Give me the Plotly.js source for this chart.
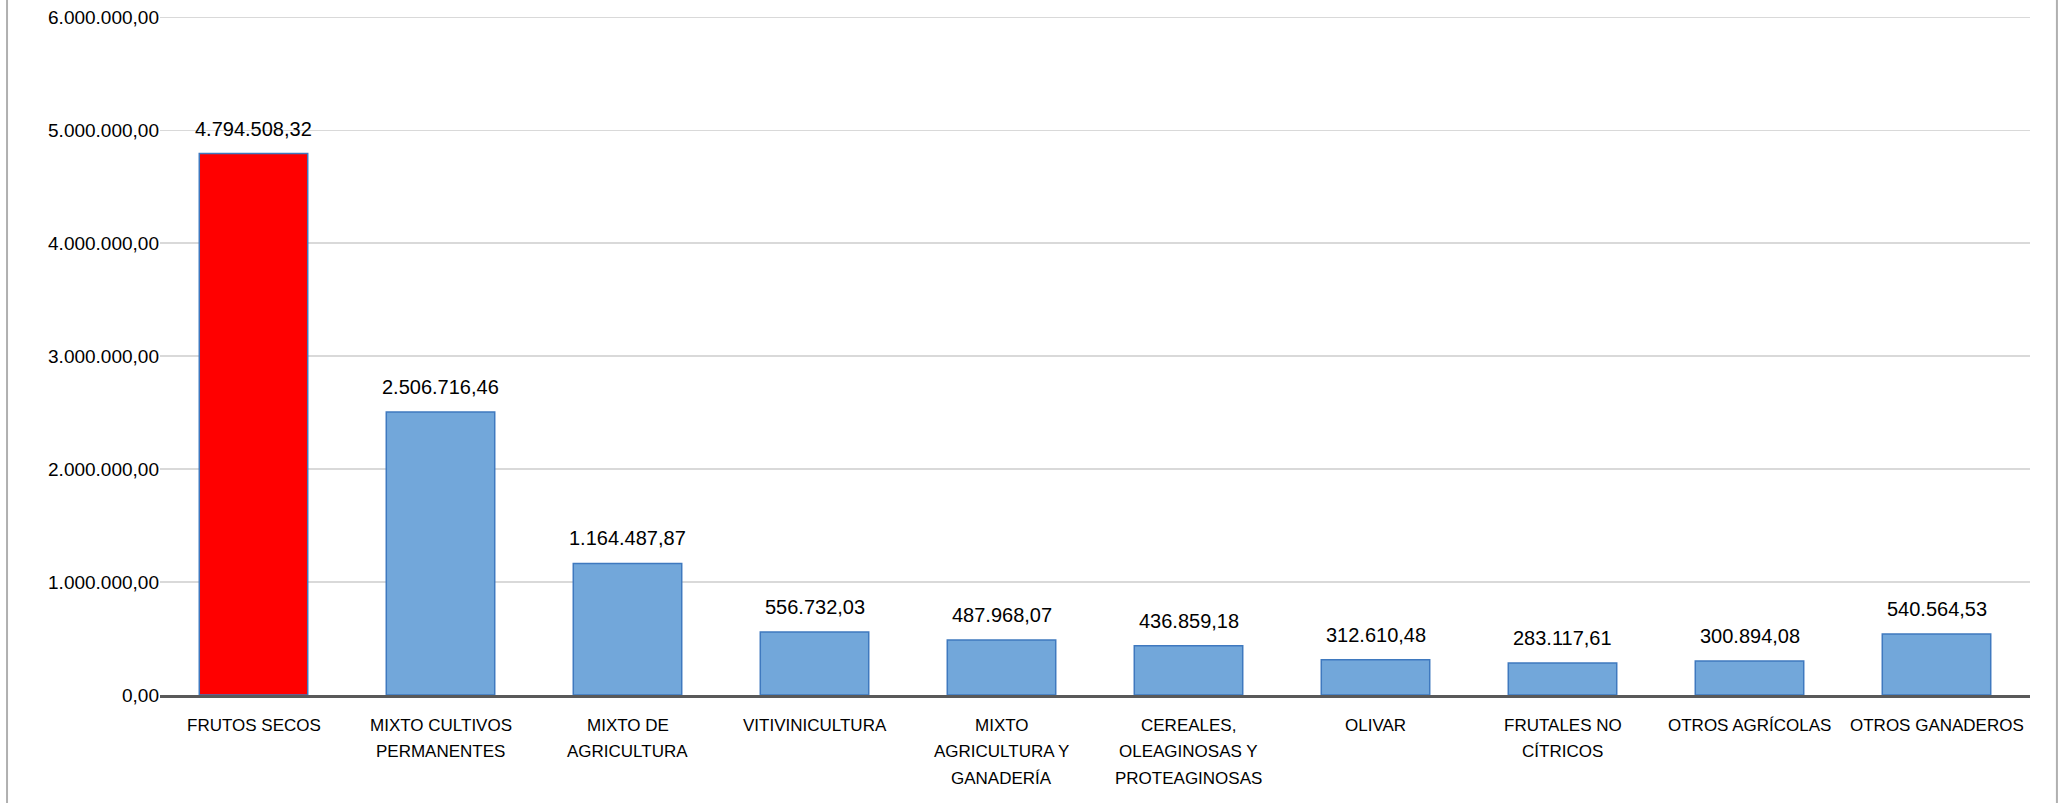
<!DOCTYPE html>
<html>
<head>
<meta charset="utf-8">
<script src="https://cdn.plot.ly/plotly-3.0.1.min.js"></script>
<style>html,body{margin:0;padding:0;background:#fff;}#chart{width:2063px;height:803px;}</style>
</head>
<body>
<div id="chart"></div>
<script>
const categories = [
  "FRUTOS SECOS",
  "MIXTO CULTIVOS<br>PERMANENTES",
  "MIXTO DE<br>AGRICULTURA",
  "VITIVINICULTURA",
  "MIXTO<br>AGRICULTURA Y<br>GANADERÍA",
  "CEREALES,<br>OLEAGINOSAS Y<br>PROTEAGINOSAS",
  "OLIVAR",
  "FRUTALES NO<br>CÍTRICOS",
  "OTROS AGRÍCOLAS",
  "OTROS GANADEROS"
];
const values = [4794508.32, 2506716.46, 1164487.87, 556732.03, 487968.07, 436859.18, 312610.48, 283117.61, 300894.08, 540564.53];
const highlight = "FRUTOS SECOS";
const tickValues = [0, 1000000, 2000000, 3000000, 4000000, 5000000, 6000000];

const fmt = v => v.toLocaleString('de-DE', {minimumFractionDigits: 2, maximumFractionDigits: 2});

const barColors = categories.map(c => c === highlight ? '#FF0000' : '#72A7DA');

const trace = {
  type: 'bar',
  x: categories,
  y: values,
  marker: {color: barColors, line: {color: '#3F79BF', width: 1.5}},
  hoverinfo: 'none'
};

const FONT = 'Liberation Sans, Arial, sans-serif';

const valueLabels = categories.map((c, i) => ({
  x: c, y: values[i], xref: 'x', yref: 'y',
  text: fmt(values[i]),
  showarrow: false, yanchor: 'bottom', yshift: 12,
  font: {family: FONT, size: 20, color: '#000'}
}));

// category labels: one annotation per line to reproduce the wider line spacing
const catLabels = [];
categories.forEach(c => {
  c.split('<br>').forEach((line, k) => {
    catLabels.push({
      x: c, y: 0, xref: 'x', yref: 'y',
      text: line, showarrow: false, yanchor: 'middle',
      yshift: -(30 + 26.5 * k),
      font: {family: FONT, size: 17, color: '#000'}
    });
  });
});

const layout = {
  width: 2063, height: 803,
  margin: {l: 160, r: 33, t: 16, b: 108},
  paper_bgcolor: '#fff', plot_bgcolor: '#fff',
  separators: ',.',
  bargap: 0.42,
  showlegend: false,
  font: {family: FONT, size: 18, color: '#000'},
  xaxis: {
    type: 'category',
    showline: true, linecolor: '#595959', linewidth: 3,
    showgrid: false, ticks: '', showticklabels: false
  },
  yaxis: {
    range: [0, 6012000],
    tickvals: tickValues,
    ticktext: tickValues.map(fmt),
    showgrid: true, gridcolor: '#D9D9D9', gridwidth: 1.5,
    zeroline: false, showline: false, ticks: '',
    tickfont: {size: 19}
  },
  annotations: valueLabels.concat(catLabels),
  shapes: [
    {type: 'line', xref: 'paper', yref: 'paper', x0: -0.0818, x1: -0.0818, y0: -0.2, y1: 1.1, line: {color: '#B0B0B0', width: 2}},
    {type: 'line', xref: 'paper', yref: 'paper', x0: 1.0144, x1: 1.0144, y0: -0.2, y1: 1.1, line: {color: '#B0B0B0', width: 2}}
  ]
};

Plotly.newPlot('chart', [trace], layout, {displayModeBar: false, staticPlot: true});
</script>
</body>
</html>
